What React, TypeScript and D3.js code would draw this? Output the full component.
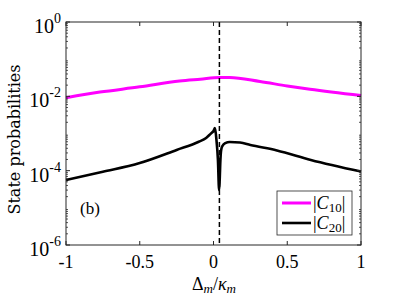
import React from "react";
import * as d3 from "d3";

const xTicks = [-1, -0.5, 0, 0.5, 1];
const xTickLabels = ["-1", "-0.5", "0", "0.5", "1"];
const yDecades = [0, -2, -4, -6];
const resonanceX = 0.04;

const c10X = [-1, -0.77, -0.5, -0.23, -0.09, 0.04, 0.11, 0.315, 0.5, 0.654, 1];
const c10Y = [9.2e-3, 1.3e-2, 1.8e-2, 2.6e-2, 2.9e-2, 3.2e-2, 3.2e-2, 2.5e-2, 1.9e-2, 1.55e-2, 1.05e-2];

const c20X = [-1, -0.75, -0.5, -0.25, -0.1, -0.05, -0.02, 0.0, 0.01, 0.02, 0.03, 0.038, 0.042, 0.047, 0.052, 0.06, 0.08, 0.11, 0.18, 0.25, 0.43, 0.66, 1];
const c20Y = [5.6e-5, 9.3e-5, 1.6e-4, 3.6e-4, 6e-4, 7.6e-4, 9.8e-4, 1.17e-3, 1.4e-3, 6.7e-4, 1.95e-4, 3e-5, 5.6e-5, 2e-4, 3.6e-4, 4.6e-4, 5.5e-4, 5.9e-4, 5.7e-4, 4.9e-4, 3.5e-4, 1.95e-4, 9.5e-5];

const seriesNames = ["C", "C"];
const seriesSubs = ["10", "20"];
const seriesColors = ["#ff00ff", "#000000"];

export default function App() {
  const L = 66, R = 361, T = 22, B = 245;
  const x = d3.scaleLinear().domain([-1, 1]).range([L, R]);
  const y = d3.scaleLog().domain([1e-6, 1]).range([B, T]);
  const line = d3
    .line<[number, number]>()
    .x((d) => x(d[0]))
    .y((d) => y(d[1]))
    .curve(d3.curveMonotoneX);
  const d10 = line(c10X.map((v, i) => [v, c10Y[i]]) as [number, number][]) || "";
  const d20 = line(c20X.map((v, i) => [v, c20Y[i]]) as [number, number][]) || "";

  const minor: number[] = [];
  for (let e = -6; e < 0; e++) {
    for (let k = 2; k <= 9; k++) minor.push(k * Math.pow(10, e));
  }
  const axisColor = "#262626";
  const tickFont = "'Liberation Serif', 'Times New Roman', serif";

  return (
    <svg width={399} height={299} style={{ position: "absolute", left: 0, top: 0, background: "#fff" }}>
      <rect x={0} y={0} width={399} height={299} fill="#fff" />
      <path d={d10} fill="none" stroke={seriesColors[0]} strokeWidth={3} />
      <path d={d20} fill="none" stroke={seriesColors[1]} strokeWidth={2.6} strokeLinejoin="round" />
      <line x1={x(resonanceX)} x2={x(resonanceX)} y1={T} y2={B} stroke="#000" strokeWidth={1.5} strokeDasharray="5,3" />
      <rect x={L} y={T} width={R - L} height={B - T} fill="none" stroke={axisColor} strokeWidth={1} />
      {xTicks.map((t, i) => (
        <g key={"xt" + i}>
          <line x1={x(t)} x2={x(t)} y1={B} y2={B - 4} stroke={axisColor} />
          <line x1={x(t)} x2={x(t)} y1={T} y2={T + 4} stroke={axisColor} />
          <text x={x(t)} y={268} textAnchor="middle" fontFamily={tickFont} fontSize={18} fill="#000">
            {xTickLabels[i]}
          </text>
        </g>
      ))}
      {yDecades.map((e) => {
        const yy = y(Math.pow(10, e));
        return (
          <g key={"yt" + e}>
            <line x1={L} x2={L + 4} y1={yy} y2={yy} stroke={axisColor} />
            <line x1={R} x2={R - 4} y1={yy} y2={yy} stroke={axisColor} />
            <text x={61} y={yy + 11} textAnchor="end" fontFamily={tickFont} fontSize={20} fill="#000">
              10
              <tspan dy={-10} fontSize={14}>{String(e)}</tspan>
            </text>
          </g>
        );
      })}
      {minor.map((m, i) => (
        <g key={"mn" + i}>
          <line x1={L} x2={L + 2} y1={y(m)} y2={y(m)} stroke={axisColor} strokeWidth={0.8} />
          <line x1={R} x2={R - 2} y1={y(m)} y2={y(m)} stroke={axisColor} strokeWidth={0.8} />
        </g>
      ))}
      <text
        transform={`translate(20,${(T + B) / 2 + 6}) rotate(-90)`}
        textAnchor="middle"
        fontFamily="'DejaVu Serif', serif"
        fontSize={16}
        fill="#000"
      >
        State probabilities
      </text>
      <text x={214} y={290} textAnchor="middle" fontFamily={tickFont} fontSize={18} fill="#000">
        Δ<tspan fontStyle="italic" fontSize={13} dy={3}>m</tspan>
        <tspan dy={-3}>/</tspan>
        <tspan fontStyle="italic">κ</tspan>
        <tspan fontStyle="italic" fontSize={13} dy={3}>m</tspan>
      </text>
      <text x={80} y={214} fontFamily={tickFont} fontSize={17} fill="#000">(b)</text>
      <rect x={277} y={191} width={75} height={44} fill="#fff" stroke={axisColor} strokeWidth={0.8} />
      {seriesNames.map((n, i) => {
        const ly = 203 + i * 20;
        return (
          <g key={"lg" + i}>
            <line x1={282} x2={311} y1={ly} y2={ly} stroke={seriesColors[i]} strokeWidth={i === 0 ? 3 : 2.6} />
            <text x={313} y={ly + 6} fontFamily={tickFont} fontSize={18} fill="#000">
              |<tspan fontStyle="italic">{n}</tspan>
              <tspan fontSize={13} dy={3}>{seriesSubs[i]}</tspan>
              <tspan dy={-3}>|</tspan>
            </text>
          </g>
        );
      })}
    </svg>
  );
}
